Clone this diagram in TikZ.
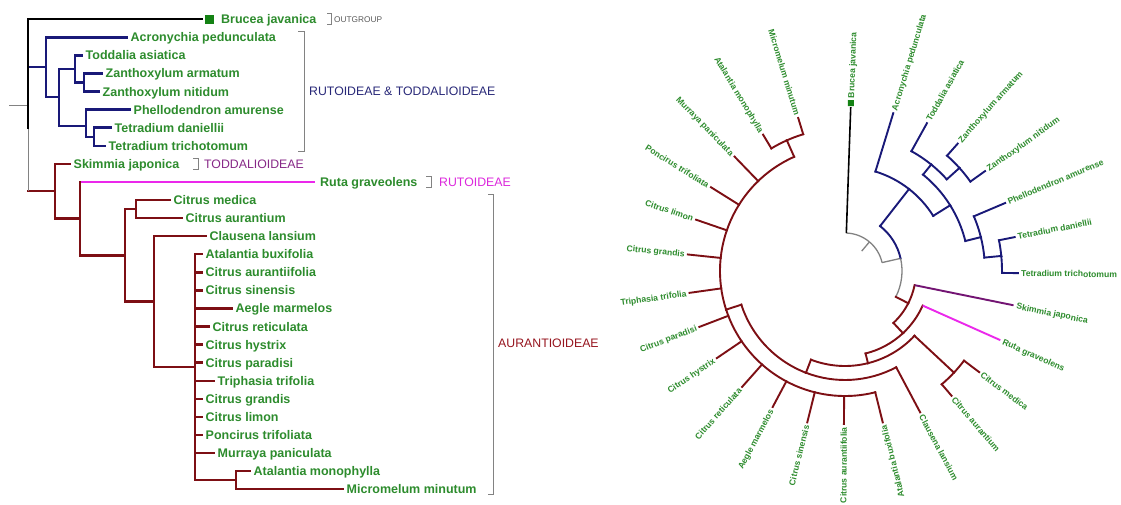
\documentclass[tikz,border=0pt]{standalone}
\usepackage{fontspec}
\setmainfont{Liberation Sans}
\definecolor{tgreen}{RGB}{45,140,45}
\definecolor{sqgreen}{RGB}{20,130,20}
\definecolor{tnavy}{RGB}{25,25,120}
\definecolor{tred}{RGB}{125,15,20}
\definecolor{tpurp}{RGB}{115,20,115}
\definecolor{tmag}{RGB}{235,40,235}
\definecolor{tgray}{RGB}{130,130,130}
\definecolor{cnavy}{RGB}{40,40,120}
\definecolor{cpurp}{RGB}{135,40,135}
\definecolor{cmag}{RGB}{220,40,220}
\definecolor{cred}{RGB}{150,20,30}
\definecolor{cgray}{RGB}{90,90,90}
\tikzset{
  LB/.style={line width=2.4pt, line cap=rect, draw=#1},
  lgray/.style={line width=0.9pt, draw=tgray},
  rk/.style={line width=1.6pt, draw=black},
  rg/.style={line width=1.3pt, draw=tgray},
  rbl/.style={line width=1.9pt, line cap=rect, draw=tnavy},
  rr/.style={line width=1.9pt, line cap=rect, draw=tred},
  rpu/.style={line width=1.9pt, draw=tpurp},
  rmg/.style={line width=1.9pt, draw=tmag},
  llab/.style={font=\bfseries\fontsize{12.5}{14}\selectfont, text=tgreen, inner sep=0pt, anchor=west, text height=9pt, text depth=0pt},
  rlab/.style={font=\bfseries\fontsize{8.6}{10}\selectfont, text=tgreen, inner sep=0pt, text height=6.2pt, text depth=0pt},
  clab/.style={font=\fontsize{12.3}{14}\selectfont, inner sep=0pt, anchor=west, text height=8.8pt, text depth=0pt},
  brk/.style={line width=1pt, draw=tgray},
}
% left tree leaf: name, colour, parent, xtip, y, text
\newcommand\lleaf[6]{%
  \coordinate (#1t) at (#4,#5);
  \draw[LB=#2] (#3) |- (#1t);
  \pgfmathsetmacro\mytx{#4+3.5}
  \node[llab] (#1) at (\mytx,#5) {#6};}
% radial branch: name, style, angle, r0, r1
\newcommand\rbr[5]{%
  \coordinate (#1a) at (#3:#4);
  \coordinate (#1z) at (#3:#5);
  \draw[#2] (#1a) -- (#1z);}
% node arcs: style, node, angle, end1, end2, radius
\newcommand\rarcs[6]{%
  \draw[#1] (#2) arc[start angle=#3, end angle=#4, radius=#6];
  \draw[#1] (#2) arc[start angle=#3, end angle=#5, radius=#6];}
% right-side leaf
\newcommand\lfR[6]{%
  \rbr{#1}{#2}{#3}{#4}{#5}
  \pgfmathsetmacro\myrr{#5+3}
  \node[rlab, rotate=#3, anchor=west] (#1) at (#3:\myrr) {#6};}
% left-side leaf
\newcommand\lfL[6]{%
  \rbr{#1}{#2}{#3}{#4}{#5}
  \pgfmathsetmacro\myrr{#5+3}
  \node[rlab, rotate=#3+180, anchor=east] (#1) at (#3:\myrr) {#6};}
\begin{document}
\begin{tikzpicture}[x=1pt,y=1pt]
\useasboundingbox (0,0) rectangle (1121,504);
\fill[white] (0,0) rectangle (1121,504);

% ================= LEFT TREE =================
\begin{scope}[yshift=504pt, yscale=-1]
\coordinate (Lstub) at (9,105.3);
\coordinate (Lroot) at (28,105.3);
\coordinate (LrB) at (28,67);
\coordinate (LrK) at (28,128);
\coordinate (LrR) at (28,191.2);
% blue clade
\coordinate (LnBlue) at (46,67);
\draw[LB=tnavy] (LrB) -- (LnBlue);
\coordinate (LnB2) at (59,97);
\draw[LB=tnavy] (LnBlue) |- (LnB2);
\coordinate (LnTZ) at (75,69);
\draw[LB=tnavy] (LnB2) |- (LnTZ);
\coordinate (LnZ) at (84,82.5);
\draw[LB=tnavy] (LnTZ) |- (LnZ);
\coordinate (LnPT) at (86,126);
\draw[LB=tnavy] (LnB2) |- (LnPT);
\coordinate (LnT) at (94,136.8);
\draw[LB=tnavy] (LnPT) |- (LnT);
\lleaf{Lacro}{tnavy}{LnBlue}{127}{37.4}{Acronychia pedunculata}
\lleaf{Ltodd}{tnavy}{LnTZ}{82}{55.4}{Toddalia asiatica}
\lleaf{Lzarm}{tnavy}{LnZ}{102}{73.5}{Zanthoxylum armatum}
\lleaf{Lznit}{tnavy}{LnZ}{99}{91.6}{Zanthoxylum nitidum}
\lleaf{Lphel}{tnavy}{LnPT}{130}{109.7}{Phellodendron amurense}
\lleaf{Ltdan}{tnavy}{LnT}{111}{127.7}{Tetradium daniellii}
\lleaf{Lttri}{tnavy}{LnT}{105}{145.8}{Tetradium trichotomum}
% red clade
\coordinate (LnRed) at (55,191.2);
\draw[LB=tred] (LrR) -- (LnRed);
\coordinate (LnRA) at (80,218.6);
\draw[LB=tred] (LnRed) |- (LnRA);
\coordinate (LrutaB) at (80,181.9);
\coordinate (Lrutat) at (314,181.9);
\draw[LB=tmag] (LrutaB) -- (Lrutat);
\draw[LB=tred] (LnRA) -- (LrutaB);
\node[llab] (Lruta) at (320,181.9) {Ruta graveolens};
\coordinate (LnAur) at (125,255.3);
\draw[LB=tred] (LnRA) |- (LnAur);
\coordinate (LnCM) at (136,209);
\draw[LB=tred] (LnAur) |- (LnCM);
\coordinate (LnRest) at (154,301.6);
\draw[LB=tred] (LnAur) |- (LnRest);
\coordinate (LnPoly) at (195,367);
\draw[LB=tred] (LnRest) |- (LnPoly);
\coordinate (LnAM) at (236,480);
\draw[LB=tred] (LnPoly) |- (LnAM);
\lleaf{Lskim}{tred}{LnRed}{70}{163.9}{Skimmia japonica}
\lleaf{Lcmed}{tred}{LnCM}{170}{200}{Citrus medica}
\lleaf{Lcaur}{tred}{LnCM}{182}{218.1}{Citrus aurantium}
\lleaf{Lclau}{tred}{LnRest}{206}{236.1}{Clausena lansium}
\lleaf{Labux}{tred}{LnPoly}{202}{254.2}{Atalantia buxifolia}
\lleaf{Lcauf}{tred}{LnPoly}{202}{272.3}{Citrus aurantiifolia}
\lleaf{Lcsin}{tred}{LnPoly}{202}{290.4}{Citrus sinensis}
\lleaf{Laegl}{tred}{LnPoly}{232}{308.4}{Aegle marmelos}
\lleaf{Lcret}{tred}{LnPoly}{209}{326.5}{Citrus reticulata}
\lleaf{Lchys}{tred}{LnPoly}{202}{344.6}{Citrus hystrix}
\lleaf{Lcpar}{tred}{LnPoly}{202}{362.6}{Citrus paradisi}
\lleaf{Ltrip}{tred}{LnPoly}{214}{380.7}{Triphasia trifolia}
\lleaf{Lcgra}{tred}{LnPoly}{202}{398.8}{Citrus grandis}
\lleaf{Lclim}{tred}{LnPoly}{202}{416.8}{Citrus limon}
\lleaf{Lponc}{tred}{LnPoly}{202}{434.9}{Poncirus trifoliata}
\lleaf{Lmurr}{tred}{LnPoly}{214}{453}{Murraya paniculata}
\lleaf{Lamon}{tred}{LnAM}{250}{471}{Atalantia monophylla}
\lleaf{Lmicr}{tred}{LnAM}{343}{489.1}{Micromelum minutum}
% root and outgroup
\draw[lgray] (Lstub) -- (Lroot);
\draw[lgray] (LrK) -- (LrR);
\coordinate (LtBru) at (202,19.3);
\draw[LB=black] (LrK) -- (Lroot) |- (LtBru);
\node[fill=sqgreen, minimum size=9.5pt, inner sep=0pt] (LsqB) at (209.5,19.3) {};
\node[llab] (LBru) at (221,19.3) {Brucea javanica};
% brackets
\coordinate (bo1) at (327,14); \coordinate (bo2) at (327,25);
\draw[brk] (bo1) -| (331,25) -- (bo2);
\node[clab, text=cgray, font=\fontsize{8.3}{10}\selectfont, text height=6pt] (Lout) at (334,19.6) {OUTGROUP};
\coordinate (bb1) at (298,31.7); \coordinate (bb2) at (298,151.7);
\draw[brk] (bb1) -| (304,151.7) -- (bb2);
\node[clab, text=cnavy] (Lrt) at (309,91) {RUTOIDEAE \& TODDALIOIDEAE};
\coordinate (bt1) at (193,158.5); \coordinate (bt2) at (193,169.5);
\draw[brk] (bt1) -| (198,169.5) -- (bt2);
\node[clab, text=cpurp] (Ltd) at (204,164) {TODDALIOIDEAE};
\coordinate (br1) at (426,176.5); \coordinate (br2) at (426,187.5);
\draw[brk] (br1) -| (431,187.5) -- (br2);
\node[clab, text=cmag] (Lrut) at (439,182) {RUTOIDEAE};
\coordinate (ba1) at (488,195); \coordinate (ba2) at (488,494.7);
\draw[brk] (ba1) -| (493,494.7) -- (ba2);
\node[clab, text=cred] (Laur) at (498,343) {AURANTIOIDEAE};
\end{scope}

% ================= RIGHT (CIRCULAR) TREE =================
\begin{scope}[shift={(845,233)}]
% root
\rbr{rstub}{rg}{50}{26}{38}
\coordinate (rroot) at (50:38);
\rarcs{rg}{rroot}{50}{88}{12.8}{38}
% outgroup
\rbr{bru}{rk}{88}{38}{164}
\node[fill=sqgreen, minimum size=6pt, inner sep=0pt, rotate=88] (bsq) at (88:168) {};
\node[rlab, rotate=88, anchor=west] (bruL) at (88:173) {Brucea javanica};
% ingroup
\rbr{ing}{rg}{12.8}{38}{57}
\draw[rbl] (ingz) arc[start angle=12.8, end angle=52, radius=57];
\draw[rg] (ingz) arc[start angle=12.8, end angle=-27, radius=57];
% blue clade
\rbr{bl}{rbl}{52}{57}{104}
\rarcs{rbl}{blz}{52}{73}{32}{104}
\lfR{acro}{rbl}{73}{104}{165}{Acronychia pedunculata}
\rbr{nb}{rbl}{32}{104}{124}
\rarcs{rbl}{nbz}{32}{51}{14}{124}
\rbr{nc}{rbl}{51}{124}{137}
\rarcs{rbl}{ncz}{51}{61}{42}{137}
\lfR{todd}{rbl}{61}{137}{169}{Toddalia asiatica}
\rbr{nd}{rbl}{42}{137}{154}
\rarcs{rbl}{ndz}{42}{48.5}{35.5}{154}
\lfR{zarm}{rbl}{48.5}{154}{170}{Zanthoxylum armatum}
\lfR{znit}{rbl}{35.5}{154}{172}{Zanthoxylum nitidum}
\rbr{ne}{rbl}{14}{124}{140}
\rarcs{rbl}{nez}{14}{23}{5.5}{140}
\lfR{phel}{rbl}{23}{140}{174}{Phellodendron amurense}
\rbr{nf}{rbl}{5.5}{140}{157}
\rarcs{rbl}{nfz}{5.5}{11.3}{-0.7}{157}
\lfR{tdan}{rbl}{11.3}{157}{173}{Tetradium daniellii}
\lfR{ttri}{rbl}{-0.7}{157}{173}{Tetradium trichotomum}
% red clade
\rbr{rd}{rr}{-27}{57}{71}
\rarcs{rr}{rdz}{-27}{-11.5}{-47}{71}
\lfR{skim}{rpu}{-11.5}{71}{172}{Skimmia japonica}
\rbr{nh}{rr}{-47}{71}{85}
\rarcs{rr}{nhz}{-47}{-24}{-76}{85}
\lfR{ruta}{rmg}{-24}{85}{170}{Ruta graveolens}
\rbr{ni}{rr}{-76}{85}{95}
\rarcs{rr}{niz}{-76}{-43}{-111}{95}
\rbr{nm}{rr}{-43}{95}{149}
\rarcs{rr}{nmz}{-43}{-37}{-49.5}{149}
\lfR{cmed}{rr}{-37}{149}{168}{Citrus medica}
\lfR{caur}{rr}{-49.5}{149}{164}{Citrus aurantium}
\rbr{nj}{rr}{-111}{95}{109}
\rarcs{rr}{njz}{-111}{-62}{-162}{109}
\lfR{claus}{rr}{-62}{109}{160}{Clausena lansium}
\rbr{nk}{rr}{-162}{109}{125}
\rarcs{rr}{nkz}{-162}{-76}{-246}{125}
\lfL{abux}{rr}{-76}{125}{156}{Atalantia buxifolia}
\lfL{cauf}{rr}{-90.4}{125}{153}{Citrus aurantiifolia}
\lfL{csin}{rr}{-104}{125}{156}{Citrus sinensis}
\lfL{aegl}{rr}{-118}{125}{154}{Aegle marmelos}
\lfL{cret}{rr}{-131.6}{125}{155}{Citrus reticulata}
\lfL{chys}{rr}{-145.8}{125}{155}{Citrus hystrix}
\lfL{cpar}{rr}{-159}{125}{156}{Citrus paradisi}
\lfL{trip}{rr}{-172}{125}{157}{Triphasia trifolia}
\lfL{cgra}{rr}{-186}{125}{158}{Citrus grandis}
\lfL{clim}{rr}{-199}{125}{157.5}{Citrus limon}
\lfL{ponc}{rr}{-212}{125}{158}{Poncirus trifoliata}
\lfL{murr}{rr}{-226}{125}{159}{Murraya paniculata}
\rbr{nl}{rr}{-246}{125}{143}
\rarcs{rr}{nlz}{-246}{-239}{-253}{143}
\lfL{amon}{rr}{-239}{143}{159}{Atalantia monophylla}
\lfL{micr}{rr}{-253}{143}{160}{Micromelum minutum}
\end{scope}
\end{tikzpicture}
\end{document}
